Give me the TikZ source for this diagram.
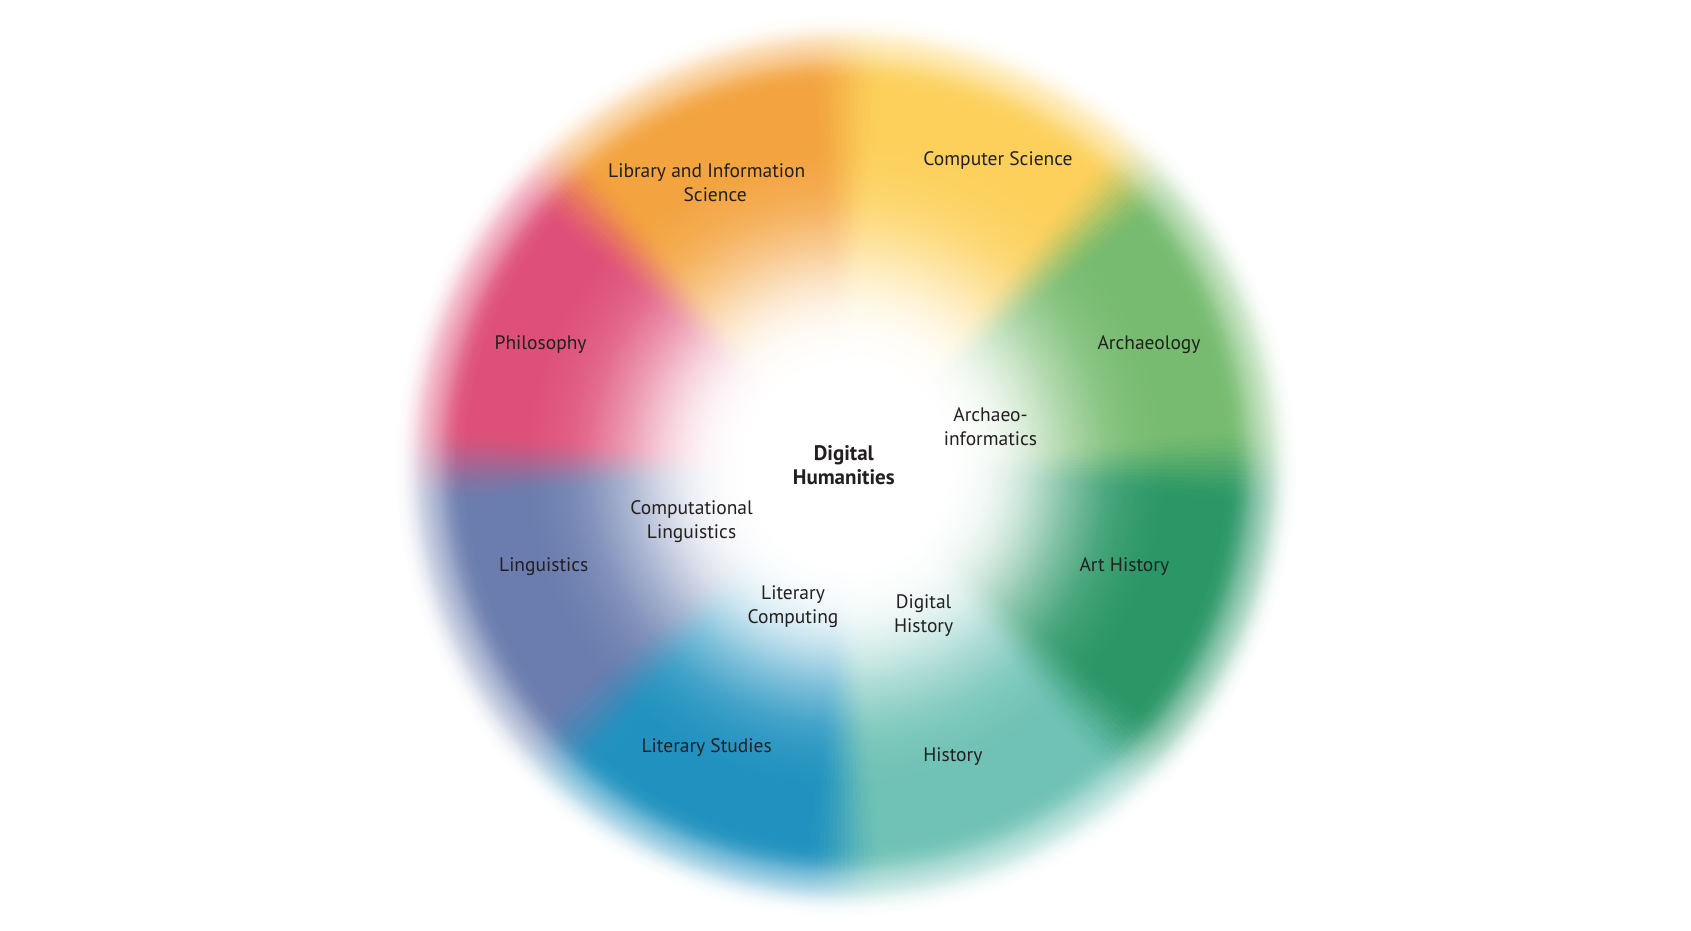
\documentclass[tikz,border=0pt]{standalone}
\usepackage{fontspec}
\setmainfont{PT Sans}
\definecolor{cArch}{HTML}{76BB6F}
\definecolor{cCS}{HTML}{FCD05B}
\definecolor{cLib}{HTML}{F3A33F}
\definecolor{cPhil}{HTML}{DE5079}
\definecolor{cLing}{HTML}{6A7DAE}
\definecolor{cLit}{HTML}{2192BF}
\definecolor{cHist}{HTML}{6FC2B5}
\definecolor{cArt}{HTML}{2B9766}
\definecolor{txt}{HTML}{231F20}
\colorlet{wcol}{cArch}
% radial profile of one sector (path radius 460 units = 25bp): white core, full colour, soft rim
\pgfdeclareradialshading[wcol]{wheel}{\pgfpointorigin}{%
 color(0bp)=(white); color(4.35bp)=(white); color(5.435bp)=(white);
 color(6.52bp)=(white!98!wcol); color(7.61bp)=(white!94!wcol);
 color(8.695bp)=(white!86!wcol); color(9.785bp)=(white!74!wcol);
 color(10.87bp)=(white!59!wcol); color(11.955bp)=(white!43!wcol);
 color(13.045bp)=(white!29!wcol); color(14.13bp)=(white!16!wcol);
 color(15.215bp)=(white!8!wcol); color(16.305bp)=(white!3!wcol);
 color(17.39bp)=(wcol); color(20.65bp)=(wcol);
 color(21.14bp)=(white!4!wcol); color(21.63bp)=(white!16!wcol);
 color(22.12bp)=(white!35!wcol); color(22.61bp)=(white!50!wcol);
 color(23.1bp)=(white!65!wcol); color(23.585bp)=(white!84!wcol);
 color(24.075bp)=(white!96!wcol); color(24.565bp)=(white); color(25bp)=(white); color(50bp)=(white)}
\tikzset{
  lbl/.style={font=\fontsize{19.5}{24}\selectfont, text=txt, align=center, inner sep=0pt},
  lblb/.style={lbl, font=\fontsize{21}{24.5}\selectfont\bfseries},
  sector/.style={shading=wheel}
}
\begin{document}
\begin{tikzpicture}[x=1pt,y=1pt]
\useasboundingbox (0,0) rectangle (1691,931);
\fill[white] (0,0) rectangle (1691,931);
\coordinate (C) at (845.5,465.5);
% solid sectors
\foreach \c [count=\j from 0] in {cArch,cCS,cLib,cPhil,cLing,cLit,cHist,cArt} {
  \pgfmathsetmacro\sa{45*\j}
  \pgfmathsetmacro\ea{45*\j+45}
  \colorlet{wcol}{\c}
  \begin{scope}
    \clip (C) -- ++(\sa:480) arc[start angle=\sa, end angle=\ea, radius=480pt] -- cycle;
    \shade[sector] (C) circle[radius=460pt];
  \end{scope}
}
% soft boundaries between sectors
\foreach \ca/\cb [count=\k from 0] in {cArt/cArch,cArch/cCS,cCS/cLib,cLib/cPhil,cPhil/cLing,cLing/cLit,cLit/cHist,cHist/cArt} {
  \foreach \i in {0,...,17} {
    \pgfmathsetmacro\sa{45*\k-6+\i*12/18}
    \pgfmathsetmacro\ea{\sa+12/18+0.25}
    \pgfmathsetmacro\t{(\i+0.5)/18}
    \pgfmathtruncatemacro\p{round(100*\t*\t*(3-2*\t))}
    \colorlet{wcol}{\cb!\p!\ca}
    \begin{scope}
      \clip (C) -- ++(\sa:480) arc[start angle=\sa, end angle=\ea, radius=480pt] -- cycle;
      \shade[sector] (C) circle[radius=460pt];
    \end{scope}
  }
}
% labels
\node[lbl] (lib) at (706.7,748.6) {Library and Information\\\hspace*{17pt}Science};
\node[lbl] (cs) at (998,770.4) {Computer Science};
\node[lbl] (phil) at (540.6,585.9) {Philosophy};
\node[lbl] (arch) at (1149,585.9) {Archaeology};
\node[lbl] (archinf) at (990.5,504.8) {Archaeo-\\informatics};
\node[lblb] (dh) at (843.8,466) {Digital\\Humanities};
\node[lbl] (cl) at (691.6,409) {Computational\\Linguistics};
\node[lbl] (ling) at (543.8,364.7) {Linguistics};
\node[lbl] (arth) at (1124.3,364.7) {Art History};
\node[lbl] (lc) at (793,324.8) {Literary\\Computing};
\node[lbl] (dhist) at (923.6,315.6) {Digital\\History};
\node[lbl] (lits) at (706.7,183.4) {Literary Studies};
\node[lbl] (hist) at (952.8,174.8) {History};
\end{tikzpicture}
\end{document}
